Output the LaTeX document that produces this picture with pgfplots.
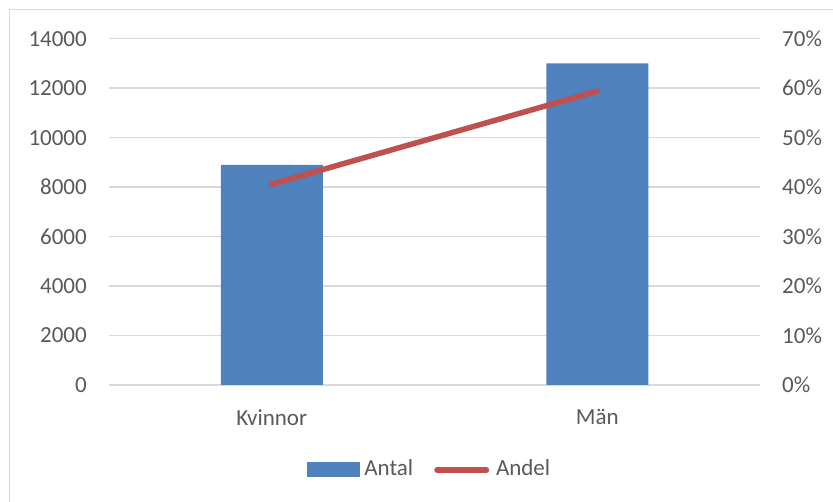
\documentclass[border=0pt]{standalone}
\usepackage{pgfplots}
\pgfplotsset{compat=1.18}
\usepackage{fontspec}
\setmainfont{Carlito}
\definecolor{barblue}{HTML}{4F81BD}
\definecolor{linered}{HTML}{C0504D}
\definecolor{txtgray}{HTML}{595959}
\definecolor{gridgray}{HTML}{D9D9D9}
\begin{document}
\begin{tikzpicture}[font=\fontsize{23bp}{28bp}\selectfont]
\useasboundingbox (0bp,0bp) rectangle (833bp,502bp);
% chart area frame (runs past the right and bottom edges)
\begin{scope}
\clip (0bp,0bp) rectangle (833bp,502bp);
\draw[gridgray, line width=1.5bp] (9.5bp,-20bp) rectangle (850bp,492.5bp);
\end{scope}
\pgfplotsset{common/.style={
  scale only axis, width=651bp, height=346.3bp,
  at={(109bp,117bp)}, anchor=south west,
  xmin=-0.5, xmax=1.5,
  axis line style={draw=none},
  major tick length=0pt, tick style={draw=none},
  ticklabel style={text=txtgray, inner sep=0pt},
  /pgf/number format/assume math mode=true,
  clip=false}}
% primary axis: counts
\begin{axis}[common,
  ymin=0, ymax=14000, ytick={0,2000,...,14000},
  /pgf/number format/1000 sep={}, scaled y ticks=false,
  yticklabel style={anchor=east, xshift=-22bp},
  ymajorgrids, major grid style={gridgray, line width=1.5bp},
  xtick={0,1}, xticklabels={Kvinnor, Män},
  xticklabel style={anchor=north, yshift=-24.3bp}]
\addplot[ybar, bar width=102bp, fill=barblue, draw=none]
  coordinates {(0,8900) (1,13000)};
\end{axis}
% secondary axis: shares
\begin{axis}[common,
  ymin=0, ymax=70, ytick={0,10,...,70},
  axis y line*=right, axis x line=none, xtick=\empty,
  yticklabel={\pgfmathprintnumber{\tick}\%},
  yticklabel style={anchor=west, xshift=22bp},
  legend style={at={(0.3041,-0.2411)}, anchor=west, draw=none, fill=none,
    inner sep=0pt, outer sep=0pt, text=txtgray, nodes={inner sep=0pt},
    /tikz/every even column/.append style={column sep=21bp}},
  legend columns=2, legend cell align=left]
\addlegendimage{legend image code/.code={
  \fill[barblue] (0bp,-8bp) rectangle (52bp,6bp); \path (57bp,0bp);}}
\addlegendentry{Antal}
\addplot[linered, line width=5.5bp, line cap=round,
  legend image code/.code={
  \draw[linered, line width=6bp, line cap=round] (3bp,-1.5bp) -- (52bp,-1.5bp);
  \path (59bp,0bp);}]
  coordinates {(0,40.6) (1,59.4)};
\addlegendentry{Andel}
\end{axis}
\end{tikzpicture}
\end{document}
